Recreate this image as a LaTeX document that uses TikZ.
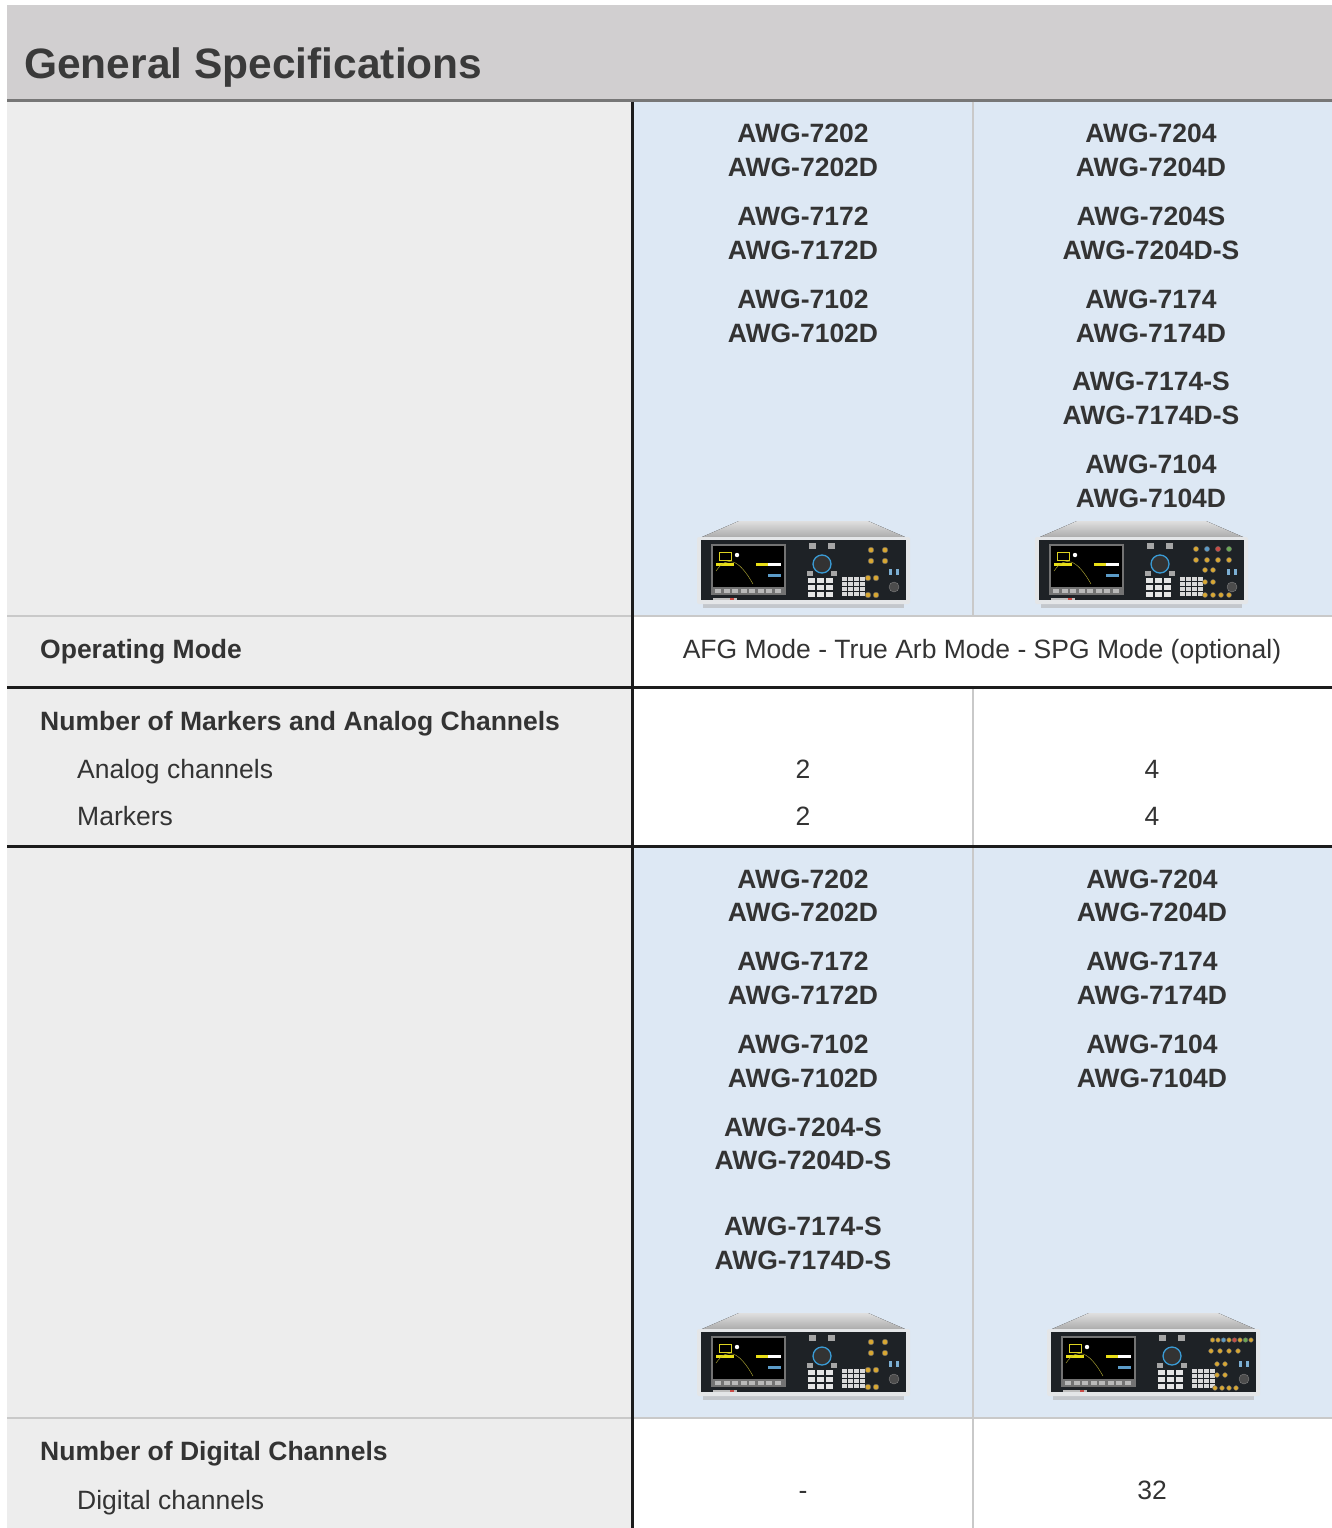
\documentclass[tikz,border=0pt]{standalone}
\usepackage{fontspec}
\setmainfont{Liberation Sans}
\usetikzlibrary{positioning}

\definecolor{headgray}{HTML}{D1CFD0}
\definecolor{headrule}{HTML}{777777}
\definecolor{leftgray}{HTML}{EDEDED}
\definecolor{cellblue}{HTML}{DDE8F4}
\definecolor{rulegray}{HTML}{C9C9C9}
\definecolor{darkrule}{HTML}{1C1C1C}
\definecolor{textgray}{HTML}{333333}
\definecolor{titlegray}{HTML}{3A3A3A}
\definecolor{panelblack}{HTML}{1E2226}
\definecolor{framesilver}{HTML}{E4E6E8}
\definecolor{knobblue}{HTML}{3A9BD5}
\definecolor{gold}{HTML}{D8A732}
\definecolor{chblue}{HTML}{5B9BC8}
\definecolor{chred}{HTML}{C94B45}
\definecolor{chgreen}{HTML}{6BAA55}

\tikzset{
  model/.style={anchor=base, inner sep=0pt, text=textgray, font=\fontsize{26.5}{30}\selectfont\bfseries},
  rowhead/.style={anchor=base west, inner sep=0pt, text=textgray, font=\fontsize{26.5}{30}\selectfont\bfseries},
  subhead/.style={anchor=base west, inner sep=0pt, text=textgray, font=\fontsize{26.5}{30}\selectfont},
  value/.style={anchor=base, inner sep=0pt, text=textgray, font=\fontsize{26.5}{30}\selectfont},
  thinrule/.style={rulegray, line width=1.2pt},
  boldrule/.style={darkrule, line width=3pt},
  jack/.style={fill=#1, draw=black!60, line width=0.4pt},
  % front panel of one unit, origin at top left corner of the panel
  awgpanel/.pic={
    \fill[top color=gray!25, bottom color=gray!65] (5,0) -- (42,-16) -- (171,-16) -- (208,0) -- cycle;
    \fill[black!30, opacity=0.6] (6,66) rectangle (207,71);
    \fill[framesilver, rounded corners=2pt] (0,0) rectangle (213,67);
    \fill[panelblack] (4,3) rectangle (209,63);
    % display
    \fill[black!55] (14,7) rectangle (89,58);
    \fill[black] (16,9) rectangle (87,50);
    \draw[yellow!85!black, line width=0.6pt] (22,15) rectangle (34,23);
    \fill[white] (40,18) circle (2.2);
    \fill[yellow!90!black] (19,26) rectangle (37,29);
    \fill[yellow!90!black] (59,26) rectangle (71,29);
    \fill[white] (71,26) rectangle (84,29);
    \fill[chblue] (71,37) rectangle (84,40);
    \draw[yellow!70!black, line width=0.4pt] (19,34) .. controls (30,18) and (42,22) .. (56,47);
    \foreach \k in {0,...,7}
      \fill[gray!55] (18+\k*8.5,52) rectangle (24+\k*8.5,56);
    \fill[gray!50] (16,61) rectangle (40,62.5);
    \fill[chred] (33,61) rectangle (37,62.5);
    % knob and keys
    \fill[gray!70] (112,6) rectangle (119,12);
    \fill[gray!70] (131,6) rectangle (138,12);
    \fill[black!80] (125,27) circle (9);
    \draw[knobblue, line width=1.3pt] (125,27) circle (9);
    \fill[gray!70] (110,34) rectangle (116,39);
    \fill[gray!70] (134,34) rectangle (140,39);
    \foreach \i in {0,1,2}
      \foreach \j in {0,1,2}
        \fill[gray!20] (111+\i*9,41+\j*7) rectangle (118+\i*9,46+\j*7);
    \foreach \i in {0,...,3}
      \foreach \j in {0,...,3}
        \fill[gray!30] (145+\i*6,40+\j*5) rectangle (149.5+\i*6,43.5+\j*5);
    % usb and power
    \fill[chblue!80] (192,32) rectangle (195,38);
    \fill[chblue!80] (199,32) rectangle (202,38);
    \fill[black!70] (197,50) circle (5);
    \draw[gray] (197,50) circle (5);
  },
  awgtwo/.pic={
    \pic {awgpanel};
    \foreach \p in {(174,13),(188,13),(174,24),(188,24),(171,41),(179,41),(171,58),(179,58)}
      \path[jack=gold] \p circle (2.8);
  },
  awgfour/.pic={
    \pic {awgpanel};
    \foreach \c [count=\i] in {gold,chblue,chred,chgreen}
      \path[jack=\c] (150+\i*11,12) circle (2.6);
    \foreach \i in {1,...,4}
      \path[jack=gold] (150+\i*11,23) circle (2.6);
    \foreach \p in {(170,33),(178,33),(170,45),(178,45)}
      \path[jack=gold] \p circle (2.5);
    \foreach \i in {0,...,3}
      \path[jack=gold] (170+\i*8,58) circle (2.5);
  },
  awgwide/.pic={
    \pic {awgpanel};
    \foreach \c [count=\i] in {gold,gold,chblue,gold,chred,gold,chgreen,gold}
      \path[jack=\c] (160+\i*5.5,11) circle (2.3);
    \foreach \i in {0,...,3}
      \path[jack=gold] (164+\i*9,22) circle (2.4);
    \foreach \p in {(170,35),(178,35),(170,46),(178,46)}
      \path[jack=gold] \p circle (2.4);
    \foreach \i in {0,...,3}
      \path[jack=gold] (168+\i*7,59) circle (2.4);
  }
}

\begin{document}
\begin{tikzpicture}[x=1pt,y=-1pt]
\useasboundingbox (0,0) rectangle (1332,1528);
\fill[white] (0,0) rectangle (1332,1528);

% header band
\fill[headgray] (7,5) rectangle (1332,100);
\draw[headrule, line width=3pt] (7,100) -- (1332,100);
\node[anchor=base west, inner sep=0pt, text=titlegray, font=\fontsize{42.5}{48}\selectfont\bfseries] (title) at (24,78) {General Specifications};

% cell backgrounds
\fill[leftgray] (7,101.5) rectangle (632,1528);
\fill[cellblue] (632,101.5) rectangle (1332,616);
\fill[cellblue] (632,846) rectangle (1332,1418);

% rules
\draw[thinrule] (7,616) -- (1332,616);
\draw[thinrule] (7,1418) -- (1332,1418);
\draw[thinrule] (973,101.5) -- (973,616);
\draw[thinrule] (973,687) -- (973,1528);
\draw[boldrule] (7,687) -- (1332,687);
\draw[boldrule] (7,846) -- (1332,846);
\draw[boldrule] (632,101.5) -- (632,1528);

% model names, upper block
\foreach \m / \y in {AWG-7202/133, AWG-7202D/167, AWG-7172/216, AWG-7172D/250,
  AWG-7102/299, AWG-7102D/333}
  \node[model] (upL\y) at (803,\y+9.5) {\m};
\foreach \m / \y in {AWG-7204/133, AWG-7204D/167, AWG-7204S/216, AWG-7204D-S/250,
  AWG-7174/299, AWG-7174D/333, AWG-7174-S/381, AWG-7174D-S/415,
  AWG-7104/464, AWG-7104D/498}
  \node[model] (upR\y) at (1151,\y+9.5) {\m};

% model names, lower block
\foreach \m / \y in {AWG-7202/879, AWG-7202D/912, AWG-7172/961, AWG-7172D/995,
  AWG-7102/1044, AWG-7102D/1078, AWG-7204-S/1127, AWG-7204D-S/1160,
  AWG-7174-S/1226, AWG-7174D-S/1260}
  \node[model] (loL\y) at (803,\y+9.5) {\m};
\foreach \m / \y in {AWG-7204/879, AWG-7204D/912, AWG-7174/961, AWG-7174D/995,
  AWG-7104/1044, AWG-7104D/1078}
  \node[model] (loR\y) at (1152,\y+9.5) {\m};

% instruments
\pic at (697,537) {awgtwo};
\pic at (1035,537) {awgfour};
\pic at (697,1329) {awgtwo};
\pic at (1047,1329) {awgwide};

% row labels
\node[rowhead] (opmode) at (40,658.5) {Operating Mode};
\node[rowhead] (markhead) at (40,730.5) {Number of Markers and Analog Channels};
\node[subhead] (analog) at (77,778.5) {Analog channels};
\node[subhead] (markers) at (77,825) {Markers};
\node[rowhead] (dighead) at (40,1460.5) {Number of Digital Channels};
\node[subhead] (digital) at (77,1509.5) {Digital channels};

% values
\node[value] (modes) at (982,658.5) {AFG Mode - True Arb Mode - SPG Mode (optional)};
\node[value] (anaL) at (803,778.5) {2};
\node[value] (anaR) at (1152,778.5) {4};
\node[value] (mrkL) at (803,825) {2};
\node[value] (mrkR) at (1152,825) {4};
\node[value] (digL) at (803,1499.5) {-};
\node[value] (digR) at (1152,1499.5) {32};
\end{tikzpicture}
\end{document}
